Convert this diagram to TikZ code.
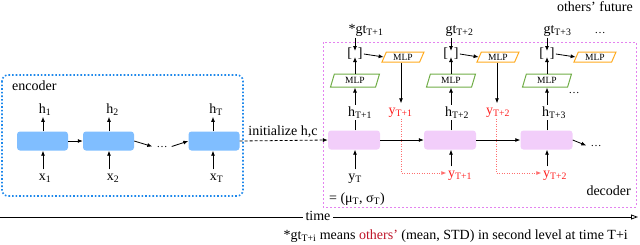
\documentclass[tikz,border=0pt]{standalone}
\usepackage{fontspec}
\setmainfont{Liberation Serif}
\usetikzlibrary{arrows.meta,shapes.geometric}
\definecolor{encfill}{RGB}{128,190,255}
\definecolor{encline}{RGB}{30,136,235}
\definecolor{decfill}{RGB}{242,206,250}
\definecolor{decline}{RGB}{228,130,240}
\definecolor{redc}{RGB}{255,30,30}
\definecolor{reddotc}{RGB}{255,110,110}
\definecolor{othred}{RGB}{190,20,40}
\definecolor{mlpgreen}{RGB}{112,173,71}
\definecolor{mlporange}{RGB}{255,170,30}
\tikzset{
  arr/.style={draw, line width=0.8pt, -{Latex[length=5pt,width=4pt]}},
  plain/.style={draw, line width=0.8pt},
  ecell/.style={fill=encfill, rounded corners=3pt, minimum width=51pt, minimum height=19pt, inner sep=0pt},
  dcell/.style={fill=decfill, rounded corners=3pt, minimum width=52pt, minimum height=19pt, inner sep=0pt},
  lbl/.style={inner sep=1.5pt, anchor=base},
  inlbl/.style={lbl, text height=9pt},
  dotsn/.style={inner xsep=4pt, inner ysep=1pt, anchor=base, font=\fontsize{11}{12}\selectfont},
  gmlp/.style={trapezium, trapezium left angle=58, trapezium right angle=122, trapezium stretches body,
    draw=mlpgreen, line width=1pt, minimum width=49pt, minimum height=13pt, inner sep=0pt,
    font=\fontsize{9.5}{10}\selectfont},
  omlp/.style={trapezium, trapezium left angle=55, trapezium right angle=125, trapezium stretches body,
    draw=mlporange, line width=1pt, minimum width=42pt, minimum height=10pt, inner sep=0pt,
    font=\fontsize{9.5}{10}\selectfont},
  brk/.style={inner sep=1pt},
  redarr/.style={draw=reddotc, line width=0.8pt, dash pattern=on 1pt off 1.5pt, -{Latex[length=5pt,width=4pt]}},
}
\begin{document}
\begin{tikzpicture}[x=1pt,y=-1pt,font=\fontsize{14}{16}\selectfont]
\useasboundingbox (0,0) rectangle (640,244);
% frames
\draw[encline, line width=1.6pt, dash pattern=on 1.6pt off 2pt, rounded corners=6pt] (2,75) rectangle (243,196);
\draw[decline, line width=0.9pt, dash pattern=on 2pt off 2pt] (323,42) rectangle (636,207);
\node[anchor=base west, inner sep=0pt] (enc) at (12,90) {encoder};
\node[anchor=base east, inner sep=0pt] (dec) at (631,195) {decoder};
\node[anchor=base east, inner sep=0pt] (fut) at (633,11) {others’ future};

% columns
\coordinate (ca1) at (43,0);
\coordinate (ca2) at (109,0);
\coordinate (ca3) at (213,0);
\coordinate (cb1) at (355,0);
\coordinate (cb2) at (451,0);
\coordinate (cb3) at (547,0);
\coordinate (co1) at (401,0);
\coordinate (co2) at (497,0);

% encoder
\node[ecell] (e1) at (42.5,141) {};
\node[ecell] (e2) at (108.5,141) {};
\node[ecell] (e3) at (214,141) {};
\node[dotsn] (edots) at (162,147) {…};
\node[lbl] (h1) at (45,113) {h\textsubscript{1}};
\node[lbl] (h2) at (112.5,113) {h\textsubscript{2}};
\node[lbl] (hT) at (216,113) {h\textsubscript{T}};
\node[inlbl] (x1) at (45,180) {x\textsubscript{1}};
\node[inlbl] (x2) at (113,180) {x\textsubscript{2}};
\node[inlbl] (xT) at (216.5,180) {x\textsubscript{T}};
\draw[arr] (e1.east) -- (e2.west);
\draw[arr] (e2.east) -- (edots.west);
\draw[arr] (edots.east) -- (e3.west);
\draw[arr] (e1.north -| ca1) -- (h1.south -| ca1);
\draw[arr] (e2.north -| ca2) -- (h2.south -| ca2);
\draw[arr] (e3.north -| ca3) -- (hT.south -| ca3);
\draw[arr] (x1.north -| ca1) -- (e1.south -| ca1);
\draw[arr] (x2.north -| ca2) -- (e2.south -| ca2);
\draw[arr] (xT.north -| ca3) -- (e3.south -| ca3);

% decoder cells
\node[dcell] (d1) at (354,140) {};
\node[dcell] (d2) at (450,140) {};
\node[dcell] (d3) at (546.5,140) {};
\node[dotsn] (ddots) at (596,146) {…};
\draw[arr, dash pattern=on 3pt off 2pt] (e3.east) -- (d1.west);
\node[lbl] (init) at (283,135) {initialize h,c};
\draw[arr] (d1.east) -- (d2.west);
\draw[arr] (d2.east) -- (d3.west);
\draw[arr] (d3.east) -- (ddots.west);

% decoder inputs
\node[inlbl] (yT) at (355,180) {y\textsubscript{T}};
\node[lbl] (mu) at (357,202) {= (μ\textsubscript{T}, σ\textsubscript{T})};
\draw[arr] (yT.north -| cb1) -- (d1.south -| cb1);

% h labels
\node[lbl] (hd1) at (360,116) {h\textsubscript{T+1}};
\node[lbl] (hd2) at (457,116) {h\textsubscript{T+2}};
\node[lbl] (hd3) at (554,116) {h\textsubscript{T+3}};
\draw[plain] (d1.north -| cb1) -- (hd1.south -| cb1);
\draw[plain] (d2.north -| cb2) -- (hd2.south -| cb2);
\draw[plain] (d3.north -| cb3) -- (hd3.south -| cb3);

% green MLPs
\node[gmlp] (g1) at (355,80.5) {MLP};
\node[gmlp] (g2) at (451,80.5) {MLP};
\node[gmlp] (g3) at (547,80.5) {MLP};
\node[dotsn] (gdots) at (574,93) {…};
\draw[arr] (hd1.north -| cb1) -- (g1.south -| cb1);
\draw[arr] (hd2.north -| cb2) -- (g2.south -| cb2);
\draw[arr] (hd3.north -| cb3) -- (g3.south -| cb3);

% brackets
\node[brk] (br1) at (355,54) {[\hspace{6pt}]};
\node[brk] (br2) at (451,54) {[\hspace{6pt}]};
\node[brk] (br3) at (547,54) {[\hspace{6pt}]};
\draw[arr] (g1.north -| cb1) -- ([yshift=-3pt]br1.center);
\draw[arr] (g2.north -| cb2) -- ([yshift=-3pt]br2.center);
\draw[arr] (g3.north -| cb3) -- ([yshift=-3pt]br3.center);

% gt labels
\node[lbl] (gt1) at (366,33) {*gt\textsubscript{T+1}};
\node[lbl] (gt2) at (459.5,33) {gt\textsubscript{T+2}};
\node[lbl] (gt3) at (557.5,33) {gt\textsubscript{T+3}};
\node[dotsn] (tdots) at (600,33) {…};
\draw[arr] (gt1.south -| cb1) -- ([yshift=3pt]br1.center);
\draw[arr] (gt2.south -| cb2) -- ([yshift=3pt]br2.center);
\draw[arr] (gt3.south -| cb3) -- ([yshift=3pt]br3.center);

% orange MLPs
\node[omlp] (o1) at (403,57) {MLP};
\node[omlp] (o2) at (498,57) {MLP};
\node[omlp] (o3) at (595,57) {MLP};
\draw[arr] (br1.east) -- (o1.west);
\draw[arr] (br2.east) -- (o2.west);
\draw[arr] (br3.east) -- (o3.west);

% predicted outputs
\node[inlbl, text=redc] (ry1) at (400.5,114) {y\textsubscript{T+1}};
\node[inlbl, text=redc] (ry2) at (498,114) {y\textsubscript{T+2}};
\draw[arr] (o1.south -| co1) -- (ry1.north -| co1);
\draw[arr] (o2.south -| co2) -- (ry2.north -| co2);

\node[inlbl, text=redc] (ly1) at (460,177) {y\textsubscript{T+1}};
\node[inlbl, text=redc] (ly2) at (555,177) {y\textsubscript{T+2}};
\coordinate (k1) at (401,173);
\coordinate (k2) at (496,173);
\draw[redarr] (ry1.south -| co1) -- (k1) -- (k1 -| ly1.west);
\draw[redarr] (ry2.south -| k2) -- (k2) -- (k2 -| ly2.west);
\draw[arr] (ly1.north -| cb2) -- (d2.south -| cb2);
\draw[arr] (ly2.north -| cb3) -- (d3.south -| cb3);

% time axis
\coordinate (t0) at (0,217);
\coordinate (t1) at (638,217);
\draw[line width=0.8pt, -{Triangle[open,length=7pt,width=5pt]}] (t0) -- (t1);
\node[fill=white, inner sep=3pt] (time) at (318,216) {time};

% note
\node[anchor=base east, inner sep=0pt] (note) at (628,239) {*gt\textsubscript{T+i} means \textcolor{othred}{others’} (mean, STD) in second level at time T+i};
\end{tikzpicture}
\end{document}
